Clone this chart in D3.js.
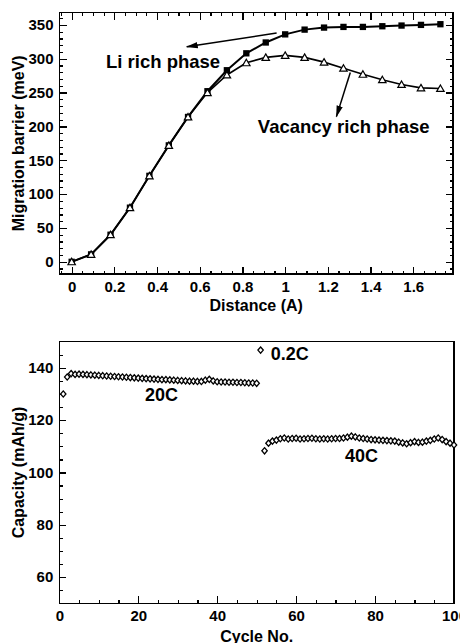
<!DOCTYPE html>
<html>
<meta charset="utf-8">
<head>
<style>
body { margin: 0; background: #fff; }
svg text { font-family: "Liberation Sans", Arial, Helvetica, sans-serif; font-weight: bold; fill: #000; }
.axis path { display: none; }
.axis line { stroke: #000; stroke-width: 1.2; shape-rendering: crispEdges; }
.axis text { font-size: 15px; }
.frame { fill: none; stroke: #000; stroke-width: 1.4; shape-rendering: crispEdges; }
</style>
</head>
<body>
<script src="https://d3js.org/d3.v7.min.js"></script>
<script>

// ---- top panel: migration barrier vs distance
var distance = [0, 0.091, 0.182, 0.273, 0.364, 0.455, 0.545, 0.636, 0.727, 0.818,
                0.909, 1.0, 1.091, 1.182, 1.273, 1.364, 1.455, 1.545, 1.636, 1.727];
var liRich   = [0, 11, 40, 80, 127, 172, 214, 252, 283, 308,
                324, 336, 343, 346, 347, 347, 348, 349, 350, 351];
var vacRich  = [0, 11, 40, 80, 127, 172, 214, 250, 276, 294,
                302, 305, 302, 295, 286, 277, 269, 262, 257, 256];
var topXTicks = [0, 0.2, 0.4, 0.6, 0.8, 1, 1.2, 1.4, 1.6];
var topXLabels = ["0", "0.2", "0.4", "0.6", "0.8", "1", "1.2", "1.4", "1.6"];
var topYTicks = [0, 50, 100, 150, 200, 250, 300, 350];

// ---- bottom panel: capacity vs cycle
var cycles20 = [1,2,3,4,5,6,7,8,9,10,11,12,13,14,15,16,17,18,19,20,21,22,23,24,25,
                26,27,28,29,30,31,32,33,34,35,36,37,38,39,40,41,42,43,44,45,46,47,48,49,50];
var cap20 = [130, 136.5, 137.8, 137.5, 137.6, 137.5, 137.4, 137.3, 137.2, 137.1,
             137, 136.9, 136.8, 136.7, 136.6, 136.5, 136.4, 136.3, 136.2, 136.1,
             136, 135.9, 135.8, 135.7, 135.6, 135.5, 135.5, 135.4, 135.3, 135.2,
             135.1, 135, 134.9, 134.9, 134.8, 134.8, 135.3, 135.6, 135, 134.7,
             134.6, 134.6, 134.5, 134.5, 134.4, 134.4, 134.3, 134.2, 134.2, 134.1];
var cycles02 = [51];
var cap02 = [146.8];
var cycles40 = [52,53,54,55,56,57,58,59,60,61,62,63,64,65,66,67,68,69,70,71,72,73,74,75,76,
                77,78,79,80,81,82,83,84,85,86,87,88,89,90,91,92,93,94,95,96,97,98,99,100];
var cap40 = [108.3, 111.2, 112, 112.4, 112.9, 113.2, 112.8, 113, 113.1, 112.8,
             112.9, 113, 113.1, 112.9, 112.8, 112.9, 112.8, 112.9, 113, 113,
             113.2, 113.5, 113.9, 113.6, 113.2, 113, 112.8, 112.6, 112.5, 112.4,
             112.3, 112.2, 112.1, 112, 111.6, 111.3, 111, 111.4, 111.8, 111.5,
             111.6, 112, 112.3, 112.8, 113.2, 112.6, 111.8, 111.2, 110.5];
var botXTicks = [0, 20, 40, 60, 80, 100];
var botYTicks = [60, 80, 100, 120, 140];

var svg = d3.select("body").append("svg")
    .attr("width", 460)
    .attr("height", 643);

svg.append("defs").append("marker")
    .attr("id", "arrow")
    .attr("viewBox", "0 -4 12 8")
    .attr("refX", 11).attr("refY", 0)
    .attr("markerWidth", 12).attr("markerHeight", 8)
    .attr("markerUnits", "userSpaceOnUse")
    .attr("orient", "auto")
    .append("path")
    .attr("d", "M0,-3.2L12,0L0,3.2Z")
    .attr("fill", "#000");

// ================= TOP =================
var x1 = d3.scaleLinear().domain([-0.057, 1.786]).range([59.5, 453]);
var y1 = d3.scaleLinear().domain([-18, 368]).range([274, 12.7]);

function minorVals(lo, hi, step) {
  var v = [];
  for (var t = lo; t <= hi + 1e-9; t += step) v.push(+t.toFixed(4));
  return v;
}
var topXMinor = minorVals(-0.05, 1.75, 0.05).filter(function(d) { return topXTicks.indexOf(d) < 0; });
var topYMinor = minorVals(-10, 360, 10).filter(function(d) { return topYTicks.indexOf(d) < 0; });

// minor ticks, all four sides
svg.append("g").attr("class", "axis").attr("transform", "translate(0,274)")
    .call(d3.axisBottom(x1).tickValues(topXMinor).tickSizeInner(-3.5).tickSizeOuter(0).tickFormat(""));
svg.append("g").attr("class", "axis").attr("transform", "translate(0,12.7)")
    .call(d3.axisTop(x1).tickValues(topXMinor).tickSizeInner(-3.5).tickSizeOuter(0).tickFormat(""));
svg.append("g").attr("class", "axis").attr("transform", "translate(59.5,0)")
    .call(d3.axisLeft(y1).tickValues(topYMinor).tickSizeInner(-3.5).tickSizeOuter(0).tickFormat(""));
svg.append("g").attr("class", "axis").attr("transform", "translate(453,0)")
    .call(d3.axisRight(y1).tickValues(topYMinor).tickSizeInner(-3.5).tickSizeOuter(0).tickFormat(""));

// major ticks
svg.append("g").attr("class", "axis").attr("transform", "translate(0,274)")
    .call(d3.axisBottom(x1).tickValues(topXTicks).tickSizeInner(-7).tickSizeOuter(0).tickPadding(7)
      .tickFormat(function(d, i) { return topXLabels[i]; }));
svg.append("g").attr("class", "axis").attr("transform", "translate(0,12.7)")
    .call(d3.axisTop(x1).tickValues(topXTicks).tickSizeInner(-7).tickSizeOuter(0).tickFormat(""));
svg.append("g").attr("class", "axis").attr("transform", "translate(59.5,0)")
    .call(d3.axisLeft(y1).tickValues(topYTicks).tickSizeInner(-7).tickSizeOuter(0).tickPadding(6));
svg.append("g").attr("class", "axis").attr("transform", "translate(453,0)")
    .call(d3.axisRight(y1).tickValues(topYTicks).tickSizeInner(-7).tickSizeOuter(0).tickFormat(""));

svg.append("rect").attr("class", "frame")
    .attr("x", 59.5).attr("y", 12.7).attr("width", 453 - 59.5).attr("height", 274 - 12.7);

var line1 = d3.line()
    .x(function(d) { return x1(d[0]); })
    .y(function(d) { return y1(d[1]); });

var liPts = distance.map(function(d, i) { return [d, liRich[i]]; });
var vacPts = distance.map(function(d, i) { return [d, vacRich[i]]; });

svg.append("path").datum(liPts)
    .attr("d", line1).attr("fill", "none").attr("stroke", "#000").attr("stroke-width", 2);
svg.append("path").datum(vacPts)
    .attr("d", line1).attr("fill", "none").attr("stroke", "#000").attr("stroke-width", 1.6);

svg.selectAll(".sq").data(liPts).enter().append("path")
    .attr("class", "sq")
    .attr("transform", function(d) { return "translate(" + x1(d[0]) + "," + y1(d[1]) + ")"; })
    .attr("d", d3.symbol().type(d3.symbolSquare).size(40))
    .attr("fill", "#000");

svg.selectAll(".tri").data(vacPts).enter().append("path")
    .attr("class", "tri")
    .attr("transform", function(d) { return "translate(" + x1(d[0]) + "," + (y1(d[1]) + 0.8) + ")"; })
    .attr("d", d3.symbol().type(d3.symbolTriangle).size(24))
    .attr("fill", "#fff").attr("stroke", "#000").attr("stroke-width", 1.2);

// annotations
svg.append("line")
    .attr("x1", x1(0.96)).attr("y1", y1(338))
    .attr("x2", x1(0.539)).attr("y2", y1(317.6))
    .attr("stroke", "#000").attr("stroke-width", 1.5)
    .attr("marker-end", "url(#arrow)");
svg.append("line")
    .attr("x1", x1(1.305)).attr("y1", y1(279.6))
    .attr("x2", x1(1.24)).attr("y2", y1(214.5))
    .attr("stroke", "#000").attr("stroke-width", 1.5)
    .attr("marker-end", "url(#arrow)");

svg.append("text").attr("x", x1(0.161)).attr("y", y1(286))
    .style("font-size", "18.5px").text("Li rich phase");
svg.append("text").attr("x", x1(0.872)).attr("y", y1(190.4))
    .style("font-size", "18.5px").text("Vacancy rich phase");

svg.append("text")
    .attr("transform", "translate(24," + (12.7 + 274) / 2 + ") rotate(-90)")
    .attr("text-anchor", "middle")
    .style("font-size", "16px")
    .text("Migration barrier (meV)");
svg.append("text")
    .attr("x", (59.5 + 453) / 2).attr("y", 311)
    .attr("text-anchor", "middle")
    .style("font-size", "16px")
    .text("Distance (A)");

// ================= BOTTOM =================
var x2 = d3.scaleLinear().domain([0, 100]).range([59.3, 454]);
var y2 = d3.scaleLinear().domain([50, 150]).range([603.3, 341.7]);

var botXMinor = minorVals(5, 95, 5).filter(function(d) { return botXTicks.indexOf(d) < 0; });
var botYMinor = minorVals(55, 145, 5).filter(function(d) { return botYTicks.indexOf(d) < 0; });

svg.append("g").attr("class", "axis").attr("transform", "translate(0,603.3)")
    .call(d3.axisBottom(x2).tickValues(botXMinor).tickSizeInner(-3.5).tickSizeOuter(0).tickFormat(""));
svg.append("g").attr("class", "axis").attr("transform", "translate(59.3,0)")
    .call(d3.axisLeft(y2).tickValues(botYMinor).tickSizeInner(-3.5).tickSizeOuter(0).tickFormat(""));
svg.append("g").attr("class", "axis").attr("transform", "translate(0,603.3)")
    .call(d3.axisBottom(x2).tickValues(botXTicks).tickSizeInner(-7).tickSizeOuter(0).tickPadding(7)
      .tickFormat(d3.format("d")));
svg.append("g").attr("class", "axis").attr("transform", "translate(59.3,0)")
    .call(d3.axisLeft(y2).tickValues(botYTicks).tickSizeInner(-7).tickSizeOuter(0).tickPadding(6));

svg.append("rect").attr("class", "frame")
    .attr("x", 59.3).attr("y", 341.7).attr("width", 454 - 59.3).attr("height", 603.3 - 341.7);

var diamond = {
  draw: function(context, size) {
    var w = 2.7, h = 3.1;
    context.moveTo(0, -h);
    context.lineTo(w, 0);
    context.lineTo(0, h);
    context.lineTo(-w, 0);
    context.closePath();
  }
};

function drawDiamonds(cycles, caps, cls) {
  var pts = cycles.map(function(c, i) { return [c, caps[i]]; });
  svg.selectAll("." + cls).data(pts).enter().append("path")
      .attr("class", cls)
      .attr("transform", function(d) { return "translate(" + x2(d[0]) + "," + y2(d[1]) + ")"; })
      .attr("d", d3.symbol().type(diamond).size(20))
      .attr("fill", "#fff").attr("stroke", "#000").attr("stroke-width", 1.3);
}
drawDiamonds(cycles20, cap20, "d20");
drawDiamonds(cycles02, cap02, "d02");
drawDiamonds(cycles40, cap40, "d40");

svg.append("text").attr("x", x2(21.7)).attr("y", y2(127.2))
    .style("font-size", "18px").text("20C");
svg.append("text").attr("x", x2(53.6)).attr("y", y2(143.1))
    .style("font-size", "18px").text("0.2C");
svg.append("text").attr("x", x2(72.4)).attr("y", y2(104.2))
    .style("font-size", "18px").text("40C");

svg.append("text")
    .attr("transform", "translate(24," + (341.7 + 603.3) / 2 + ") rotate(-90)")
    .attr("text-anchor", "middle")
    .style("font-size", "16px")
    .text("Capacity (mAh/g)");
svg.append("text")
    .attr("x", (59.3 + 454) / 2).attr("y", 641.5)
    .attr("text-anchor", "middle")
    .style("font-size", "16px")
    .text("Cycle No.");

</script>
</body>
</html>
